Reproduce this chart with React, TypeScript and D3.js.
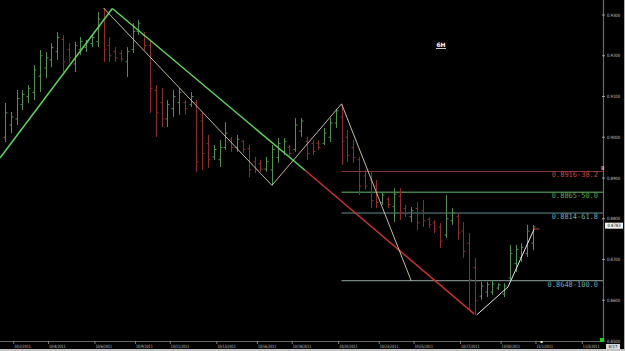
import React from "react";
import * as d3 from "d3";

// ---- data (6H EUR-style OHLC bars) ----
const opens = [
  0.9000, 0.9030, 0.9045, 0.9080, 0.9100, 0.9110, 0.9150, 0.9170, 0.9190, 0.9210,
  0.9240, 0.9215, 0.9180, 0.9215, 0.9220, 0.9230, 0.9235, 0.9290, 0.9225, 0.9210,
  0.9205, 0.9185, 0.9215, 0.9260, 0.9250, 0.9225, 0.9115, 0.9085, 0.9045, 0.9070,
  0.9085, 0.9085, 0.9080, 0.9085, 0.9040, 0.8985, 0.8952, 0.8945, 0.8975, 0.8995,
  0.8975, 0.8990, 0.8972, 0.8940, 0.8935, 0.8922, 0.8920, 0.8950, 0.8965, 0.8975,
  0.8970, 0.9015, 0.8990, 0.8985, 0.8985, 0.8985, 0.9000, 0.9035, 0.9050, 0.9000,
  0.8975, 0.8945, 0.8905, 0.8895, 0.8880, 0.8840, 0.8848, 0.8830, 0.8855, 0.8825,
  0.8805, 0.8825, 0.8820, 0.8798, 0.8790, 0.8780, 0.8760, 0.8795, 0.8805, 0.8770,
  0.8740, 0.8680, 0.8610, 0.8620, 0.8620, 0.8630, 0.8615, 0.8655, 0.8690, 0.8705,
  0.8715, 0.8740,
];
const highs = [
  0.9084, 0.9062, 0.9116, 0.9116, 0.9128, 0.9177, 0.9214, 0.9209, 0.9231, 0.9258,
  0.9251, 0.9231, 0.9234, 0.9246, 0.9239, 0.9251, 0.9307, 0.9317, 0.9246, 0.9221,
  0.9214, 0.9221, 0.9280, 0.9288, 0.9258, 0.9239, 0.9128, 0.9121, 0.9091, 0.9116,
  0.9121, 0.9091, 0.9111, 0.9091, 0.9060, 0.9006, 0.8981, 0.8993, 0.9037, 0.9001,
  0.9006, 0.8993, 0.8981, 0.8952, 0.8944, 0.8952, 0.8981, 0.8998, 0.8998, 0.8981,
  0.9047, 0.9047, 0.9001, 0.8993, 0.8993, 0.9023, 0.9047, 0.9070, 0.9080, 0.9018,
  0.8993, 0.8952, 0.8920, 0.8915, 0.8895, 0.8863, 0.8853, 0.8875, 0.8875, 0.8834,
  0.8829, 0.8841, 0.8846, 0.8804, 0.8797, 0.8789, 0.8858, 0.8826, 0.8814, 0.8792,
  0.8765, 0.8704, 0.8645, 0.8645, 0.8650, 0.8642, 0.8642, 0.8736, 0.8736, 0.8740,
  0.8785, 0.8785,
];
const lows = [
  0.8988, 0.9010, 0.9030, 0.9067, 0.9084, 0.9091, 0.9111, 0.9145, 0.9172, 0.9190,
  0.9160, 0.9182, 0.9160, 0.9202, 0.9209, 0.9221, 0.9221, 0.9185, 0.9185, 0.9185,
  0.9185, 0.9148, 0.9207, 0.9251, 0.9214, 0.9060, 0.9001, 0.9025, 0.9025, 0.9050,
  0.9055, 0.9055, 0.9074, 0.8915, 0.8920, 0.8925, 0.8944, 0.8927, 0.8969, 0.8964,
  0.8964, 0.8961, 0.8902, 0.8912, 0.8915, 0.8915, 0.8882, 0.8937, 0.8956, 0.8952,
  0.8964, 0.9001, 0.8944, 0.8956, 0.8969, 0.8981, 0.8988, 0.9023, 0.8932, 0.8939,
  0.8937, 0.8858, 0.8871, 0.8826, 0.8826, 0.8834, 0.8826, 0.8792, 0.8797, 0.8804,
  0.8792, 0.8772, 0.8780, 0.8777, 0.8765, 0.8728, 0.8753, 0.8785, 0.8748, 0.8704,
  0.8576, 0.8564, 0.8601, 0.8608, 0.8613, 0.8625, 0.8608, 0.8650, 0.8669, 0.8694,
  0.8706, 0.8723,
];
const closes = [
  0.9060, 0.9050, 0.9095, 0.9105, 0.9120, 0.9165, 0.9200, 0.9195, 0.9220, 0.9245,
  0.9185, 0.9195, 0.9225, 0.9235, 0.9232, 0.9245, 0.9290, 0.9215, 0.9200, 0.9195,
  0.9192, 0.9210, 0.9260, 0.9280, 0.9225, 0.9120, 0.9060, 0.9045, 0.9080, 0.9100,
  0.9110, 0.9070, 0.9100, 0.8940, 0.8960, 0.8945, 0.8970, 0.8975, 0.9010, 0.8975,
  0.8995, 0.8970, 0.8920, 0.8920, 0.8922, 0.8940, 0.8970, 0.8985, 0.8990, 0.8960,
  0.9030, 0.9040, 0.8960, 0.8965, 0.8975, 0.9010, 0.9035, 0.9065, 0.8990, 0.8955,
  0.8950, 0.8880, 0.8880, 0.8845, 0.8840, 0.8858, 0.8835, 0.8860, 0.8815, 0.8812,
  0.8820, 0.8790, 0.8795, 0.8785, 0.8775, 0.8745, 0.8800, 0.8815, 0.8765, 0.8720,
  0.8650, 0.8600, 0.8635, 0.8638, 0.8640, 0.8638, 0.8635, 0.8715, 0.8725, 0.8730,
  0.8770, 0.8780,
];

const dateLabels = [
  "10/2/2011", "10/4/2011", "10/6/2011", "10/9/2011", "10/11/2011", "10/13/2011",
  "10/16/2011", "10/18/2011", "10/20/2011", "10/23/2011", "10/25/2011", "10/27/2011",
  "10/30/2011", "11/1/2011", "11/3/2011",
];
const dateTickIdx = [1.5, 7.5, 15.5, 22.5, 28.5, 36.5, 43.5, 49.5, 57.5, 64.5, 70.5, 78.5, 85.5, 91.5, 99.5];

const priceTicks = [0.85, 0.86, 0.87, 0.88, 0.89, 0.90, 0.91, 0.92, 0.93];

const fibPrices = [0.8916, 0.8865, 0.8814, 0.8648];
const fibLabels = ["0.8916-38.2", "0.8865-50.0", "0.8814-61.8", "0.8648-100.0"];
const fibStartIdx = 58;

// trend lines (index, price)
const upTrendIdx = [-0.86, 18.5];
const upTrendPx = [0.8949, 0.9316];
const downTrendIdx = [18.5, 51.7, 80.9];
const downTrendPx = [0.9316, 0.8919, 0.8566];

// zigzags
const zigIdx = [17, 46, 58, 70];
const zigPx = [0.9317, 0.8882, 0.9082, 0.8648];
const zig2Idx = [81.3, 86.7, 91.2];
const zig2Px = [0.8564, 0.8633, 0.8775];

const lastPrice = 0.8783;

export default function App() {
  const W = 625;
  const H = 351;
  const plotRight = 603;
  const axisY = 341;
  const x = d3.scaleLinear().domain([-0.862, 103.06]).range([0, plotRight]);
  const y = d3.scaleLinear().domain([0.85, 0.93]).range([341, 15]);

  const line = d3
    .line<[number, number]>()
    .x((d) => x(d[0]))
    .y((d) => y(d[1]));

  const upPts: [number, number][] = upTrendIdx.map((v, i) => [v, upTrendPx[i]]);
  const downPts: [number, number][] = downTrendIdx.map((v, i) => [v, downTrendPx[i]]);
  const zigPts: [number, number][] = zigIdx.map((v, i) => [v, zigPx[i]]);
  const zig2Pts: [number, number][] = zig2Idx.map((v, i) => [v, zig2Px[i]]);

  const fibLine = ["#8a3535", "#3f7f3f", "#5f8f8f", "#8fa8a0"];
  const fibText = ["#c04848", "#5aa55a", "#6aacac", "#6aaabb"];
  const fibW = [1, 1.6, 1, 1];

  const tickFont = "DejaVu Sans, sans-serif";

  return (
    <svg
      width={W}
      height={H}
      style={{ position: "absolute", left: 0, top: 0, background: "#000" }}
    >
      <rect x={0} y={0} width={W} height={H} fill="#000" />
      <clipPath id="plot">
        <rect x={0} y={0} width={plotRight} height={axisY} />
      </clipPath>

      {/* fib lines */}
      {fibPrices.map((p, i) => (
        <line
          key={"fl" + i}
          x1={x(fibStartIdx)}
          x2={plotRight}
          y1={y(p)}
          y2={y(p)}
          stroke={fibLine[i]}
          strokeWidth={fibW[i]}
        />
      ))}

      {/* bars */}
      <g clipPath="url(#plot)">
        {highs.map((h, i) => {
          const up = closes[i] >= opens[i];
          const c = up ? "#4f914f" : "#8e2c2c";
          const cx = Math.round(x(i)) + 0.5;
          return (
            <g key={"b" + i} stroke={c} strokeWidth={1}>
              <line x1={cx} x2={cx} y1={y(h)} y2={y(lows[i])} />
              <line x1={cx - 2} x2={cx} y1={y(opens[i])} y2={y(opens[i])} />
              <line x1={cx} x2={cx + 2} y1={y(closes[i])} y2={y(closes[i])} />
            </g>
          );
        })}

        {/* trend lines */}
        <path d={line(upPts) || ""} fill="none" stroke="#5fd35f" strokeWidth={1.5} />
        <path d={line(downPts.slice(0, 2)) || ""} fill="none" stroke="#5fd35f" strokeWidth={1.5} />
        <path d={line(downPts.slice(1)) || ""} fill="none" stroke="#c83232" strokeWidth={1.5} />

        {/* zigzags */}
        <path d={line(zigPts) || ""} fill="none" stroke="#d9cfb5" strokeWidth={0.9} />
        <path d={line(zig2Pts) || ""} fill="none" stroke="#e8e8e8" strokeWidth={1} />
        <line
          x1={x(91.1)}
          x2={x(92.1)}
          y1={y(0.8775)}
          y2={y(0.8775)}
          stroke="#c84040"
          strokeWidth={1}
        />
      </g>

      {/* fib labels */}
      {fibPrices.map((p, i) => (
        <text
          key={"ft" + i}
          x={598}
          y={y(p) + 6}
          textAnchor="end"
          fontFamily="DejaVu Sans Mono, monospace"
          fontSize={7.5}
          fill={fibText[i]}
          textLength={fibLabels[i].length * 4.2}
          lengthAdjust="spacingAndGlyphs"
        >
          {fibLabels[i]}
        </text>
      ))}

      {/* timeframe label */}
      <text x={441} y={47} textAnchor="middle" fontFamily={tickFont} fontSize={6} fontWeight="bold" fill="#fff">
        6H
      </text>
      <line x1={436} x2={446} y1={48.5} y2={48.5} stroke="#fff" strokeWidth={0.8} />

      {/* y axis */}
      <line x1={plotRight + 0.5} x2={plotRight + 0.5} y1={0} y2={axisY} stroke="#6a6a6a" strokeWidth={1.2} />
      <line x1={624.5} x2={624.5} y1={0} y2={H} stroke="#b0b0b0" strokeWidth={1} />
      {priceTicks.map((p, i) => (
        <g key={"yt" + i}>
          <line x1={602} x2={605} y1={y(p)} y2={y(p)} stroke="#bbb" strokeWidth={0.8} />
          <text
            x={607}
            y={y(p) + 1.5}
            fontFamily={tickFont}
            fontSize={4.5}
            fill="#c8c8c8"
            textLength={13}
            lengthAdjust="spacingAndGlyphs"
          >
            {p.toFixed(4)}
          </text>
        </g>
      ))}
      <text x={602.5} y={170} textAnchor="middle" fontFamily={tickFont} fontSize={5} fill="#fff">
        8
      </text>

      {/* last price box */}
      <rect x={605} y={y(lastPrice) - 3} width={18} height={6} fill="#f2f2f2" />
      <text
        x={614}
        y={y(lastPrice) + 1.6}
        textAnchor="middle"
        fontFamily={tickFont}
        fontSize={4.5}
        fill="#000"
        textLength={13}
        lengthAdjust="spacingAndGlyphs"
      >
        {lastPrice.toFixed(4)}
      </text>

      {/* x axis */}
      <line x1={0} x2={plotRight} y1={axisY + 0.5} y2={axisY + 0.5} stroke="#666" strokeWidth={1} />
      {dateTickIdx.map((t, i) => (
        <g key={"xt" + i}>
          <line x1={x(t)} x2={x(t)} y1={axisY} y2={axisY + 3} stroke="#aaa" strokeWidth={0.7} />
          <text
            x={x(t) + 0.5}
            y={347.5}
            fontFamily={tickFont}
            fontSize={4.5}
            fill="#c8c8c8"
            textLength={dateLabels[i].length * 1.85}
            lengthAdjust="spacingAndGlyphs"
          >
            {dateLabels[i]}
          </text>
        </g>
      ))}
      <rect x={x(92.3)} y={341} width={2} height={2} fill="#ffff99" />
      <rect x={600} y={338} width={4} height={4} fill="#22cc22" />
      <rect x={606} y={344} width={14} height={5.5} fill="#d8d8d8" />
      <text x={613} y={348.3} textAnchor="middle" fontFamily={tickFont} fontSize={4} fill="#222">
        8/17
      </text>

      {/* bottom strip */}
      <rect x={0} y={349} width={W} height={2} fill="#c4c4c4" />
    </svg>
  );
}
